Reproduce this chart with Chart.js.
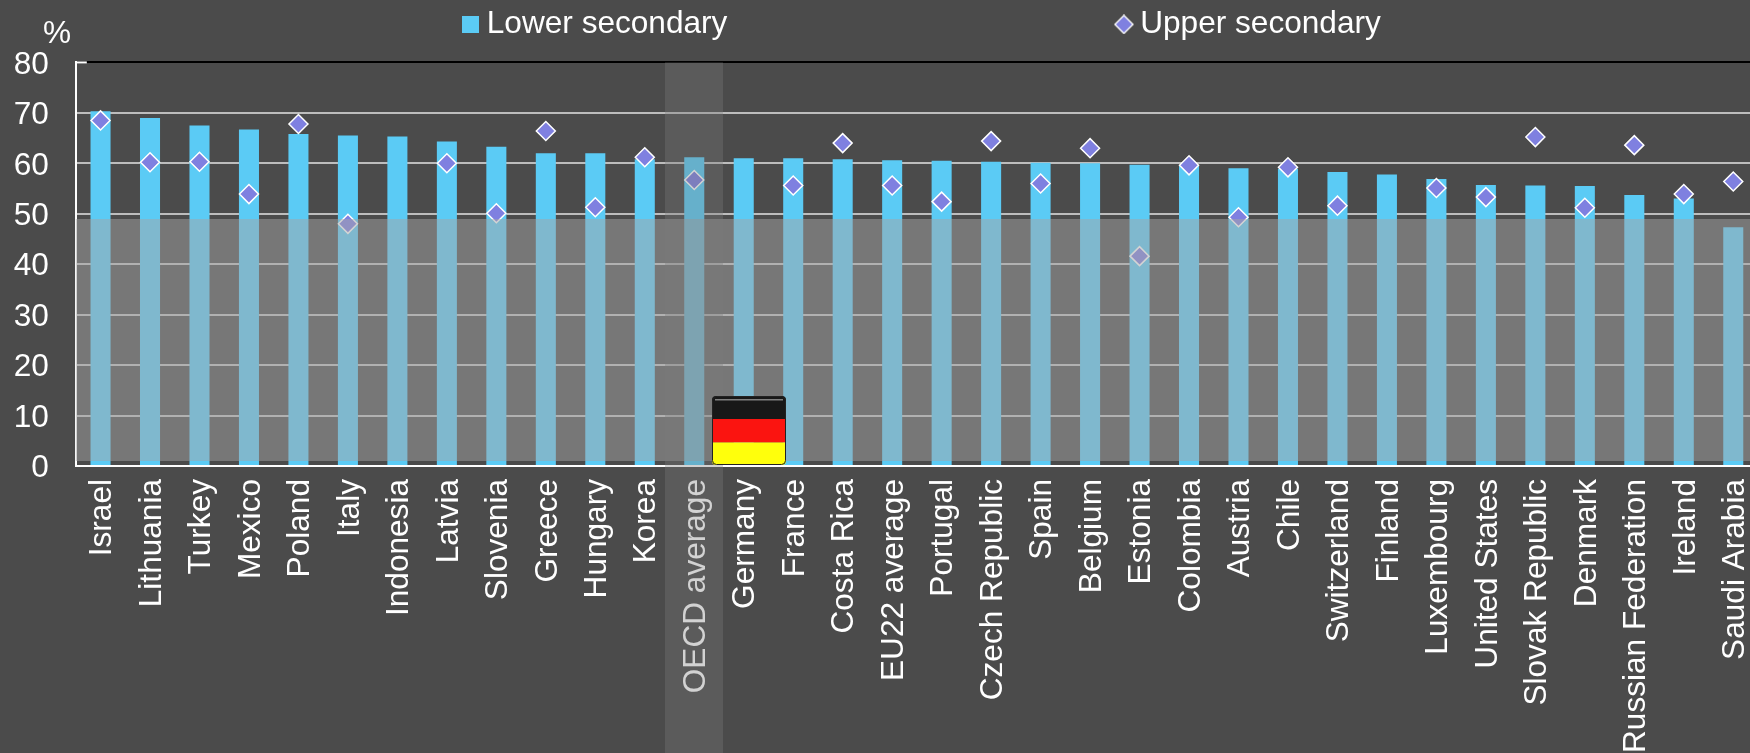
<!DOCTYPE html>
<html><head><meta charset="utf-8">
<style>html,body{margin:0;padding:0;background:#4b4b4b;overflow:hidden;width:1750px;height:753px}canvas{display:block}</style>
<script src="https://cdn.jsdelivr.net/npm/chart.js@4"></script></head>
<body><canvas id="c" width="1790" height="753"></canvas>
<script>
const categories=["Israel","Lithuania","Turkey","Mexico","Poland","Italy","Indonesia","Latvia","Slovenia","Greece","Hungary","Korea","OECD average","Germany","France","Costa Rica","EU22 average","Portugal","Czech Republic","Spain","Belgium","Estonia","Colombia","Austria","Chile","Switzerland","Finland","Luxembourg","United States","Slovak Republic","Denmark","Russian Federation","Ireland","Saudi Arabia"];
const lowerSecondary=[70.3,69,67.5,66.7,65.8,65.5,65.3,64.3,63.3,62,62,60.8,61.2,61,61,60.8,60.6,60.5,60.3,60.1,60,59.7,59.5,59,58.9,58.3,57.8,56.9,55.7,55.6,55.5,53.7,53,47.3];
const upperSecondary=[68.5,60.2,60.3,53.9,67.8,48,null,60,50.1,66.4,51.3,61.2,56.7,null,55.6,64,55.6,52.4,64.4,56,63,41.6,59.6,49.3,59.2,51.6,null,55.1,53.3,65.2,51.2,63.6,53.9,56.4];
const yTicks=[0,10,20,30,40,50,60,70,80];
const yUnit="%";
const FONT='"Liberation Sans", Arial, sans-serif';
const SIZE=31.6;
const LEGEND_PAD=396;

const legendDiamond=document.createElement('canvas');
legendDiamond.width=legendDiamond.height=20;
(()=>{const g=legendDiamond.getContext('2d');g.beginPath();g.moveTo(10,1);g.lineTo(19,10);g.lineTo(10,19);g.lineTo(1,10);g.closePath();g.fillStyle='#7f80e0';g.fill();g.strokeStyle='#fff';g.lineWidth=1.4;g.stroke();})();

const decor={id:'decor',
 beforeDraw(ch){
  const l=ch.legend; l.left=470-LEGEND_PAD; l.top=8.6-LEGEND_PAD; l.right=1790;
 },
 afterDraw(ch){
  const c=ch.ctx,a=ch.chartArea,y=ch.scales.y;
  const top=y.getPixelForValue(80);
  c.save();
  c.strokeStyle='#fff';c.lineWidth=2;c.beginPath();c.moveTo(a.left,top);c.lineTo(a.left+11,top);c.stroke();
  c.fillStyle='#fff';c.font=SIZE+'px '+FONT;c.textAlign='left';c.textBaseline='alphabetic';
  c.fillText(yUnit,43,43);
  c.fillStyle='rgba(165,165,165,0.49)';
  c.fillRect(a.left,219,1750-a.left,242);
  c.fillStyle='rgba(122,122,122,0.34)';
  c.fillRect(665,top,58,753-top);
  const fx=712,fy=396,fw=74,fh=69,r=4;
  c.save();c.beginPath();c.roundRect(fx,fy,fw,fh,r);c.clip();
  c.fillStyle='#181818';c.fillRect(fx,fy,fw,23);
  c.fillStyle='#fb1410';c.fillRect(fx,fy+23,fw,23.5);
  c.fillStyle='#ffff0c';c.fillRect(fx,fy+46.5,fw,23);
  c.fillStyle='rgba(255,255,255,0.45)';c.fillRect(fx+3,fy+3,fw-6,1.5);
  c.restore();
  c.strokeStyle='#222';c.lineWidth=1;c.beginPath();c.roundRect(fx+.5,fy+.5,fw-1,fh-1,r);c.stroke();
  c.restore();
 }};

new Chart(document.getElementById('c'),{
 data:{labels:categories,datasets:[
  {type:'line',label:'Upper secondary',data:upperSecondary,order:1,showLine:false,
   pointStyle:'rectRot',pointRadius:9.5,pointHoverRadius:9.5,backgroundColor:'#7f80e0',borderColor:'#fff',borderWidth:1.5,pointBorderWidth:1.5},
  {type:'bar',label:'Lower secondary',data:lowerSecondary,order:2,backgroundColor:'#5bcbf5',borderWidth:0,barPercentage:0.405,categoryPercentage:1,pointStyle:'rect'}
 ]},
 options:{responsive:false,animation:false,devicePixelRatio:1,
  layout:{padding:{top:61.4,right:32,left:0,bottom:0}},
  plugins:{tooltip:{enabled:false},title:{display:false},
   legend:{display:true,position:'top',align:'start',maxHeight:1,
    labels:{color:'#fff',font:{family:FONT,size:SIZE},usePointStyle:true,boxWidth:1,boxHeight:17,padding:LEGEND_PAD,
     generateLabels(ch){return Chart.defaults.plugins.legend.labels.generateLabels(ch).map(it=>{
       if(it.text==='Upper secondary')it.pointStyle=legendDiamond;
       else {it.pointStyle='rect';it.strokeStyle='#5bcbf5';it.lineWidth=0;}
       return it;});},
     sort:(a,b)=>a.text==='Lower secondary'?-1:1}}},
  scales:{
   x:{type:'category',offset:true,
    afterFit(s){s.height=287;},
    border:{color:'#fff',width:2},
    grid:{display:false},
    ticks:{autoSkip:false,maxRotation:90,minRotation:90,padding:5,labelOffset:2,color:'#fff',font:{family:FONT,size:SIZE}}},
   y:{min:0,max:80,
    afterFit(s){s.width=75.8;},
    afterBuildTicks(s){s.ticks=yTicks.map(v=>({value:v}));},
    border:{color:'#fff',width:2},
    grid:{lineWidth:2,tickLength:0,color:c=>c.tick&&c.tick.value===80?'#000':'#bdbdbd'},
    ticks:{padding:27,autoSkip:false,labelOffset:2.5,color:'#fff',font:{family:FONT,size:SIZE}}}
  }},
 plugins:[decor]
});
</script>
</body></html>
